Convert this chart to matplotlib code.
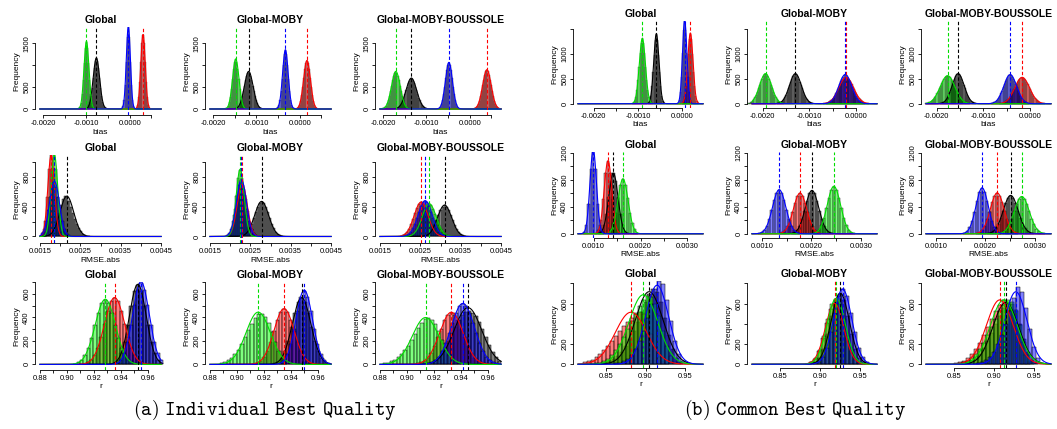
import numpy as np
import matplotlib
matplotlib.use("Agg")
import matplotlib.pyplot as plt

plt.rcParams['font.family'] = ['Liberation Sans', 'DejaVu Sans']
plt.rcParams['axes.unicode_minus'] = False
plt.rcParams['mathtext.fontset'] = 'cm'

# bin widths per metric
W_BIAS = 0.000025
W_RMSE = 0.00005
W_R_A = 0.0025
W_R_B = 0.005

# histograms: (left edge of first bin, counts)
# ---- (a) Individual Best Quality ----
a11_black = (-0.0010075, [12, 35, 81, 162, 290, 476, 708, 928, 1102, 1160, 1102, 928, 708, 476,
                          290, 162, 81, 35, 12])
a11_red = (0.0001475, [29, 100, 275, 608, 1073, 1509, 1690, 1509, 1073, 608, 275, 100, 29])
a11_green = (-0.0011875, [15, 51, 145, 339, 658, 1055, 1401, 1540, 1401, 1055, 658, 339, 145, 51, 15])
a11_blue = (-0.0001925, [13, 58, 203, 541, 1081, 1637, 1880, 1637, 1081, 541, 203, 58, 13])

a12_black = (-0.0014925, [12, 23, 43, 77, 127, 199, 292, 405, 529, 652, 756, 826, 852, 826, 756,
                          652, 529, 405, 292, 199, 127, 77, 43, 23, 12])
a12_red = (-0.0000925, [9, 21, 49, 100, 190, 325, 505, 711, 908, 1050, 1103, 1050, 908, 711, 505,
                        325, 190, 100, 49, 21, 9])
a12_green = (-0.0017175, [12, 34, 79, 158, 283, 465, 692, 907, 1077, 1134, 1077, 907, 692, 465, 283,
                          158, 79, 34, 12])
a12_blue = (-0.0005425, [12, 36, 94, 211, 412, 692, 1002, 1251, 1347, 1251, 1002, 692, 412, 211,
                         94, 36, 12])

a13_black = (-0.0017375, [8, 14, 24, 39, 62, 95, 139, 195, 262, 341, 425, 508, 585, 646, 686, 700,
                          686, 646, 585, 508, 425, 341, 262, 195, 139, 95, 62, 39, 24, 14, 8])
a13_red = (0.0000875, [10, 20, 39, 71, 120, 192, 289, 408, 540, 672, 785, 862, 890, 862, 785, 672,
                       540, 408, 289, 192, 120, 71, 39, 20, 10])
a13_green = (-0.0020225, [12, 23, 43, 77, 127, 199, 292, 405, 529, 652, 756, 826, 852, 826, 756,
                          652, 529, 405, 292, 199, 127, 77, 43, 23, 12])
a13_blue = (-0.0007425, [11, 25, 56, 111, 201, 335, 508, 699, 880, 1010, 1058, 1010, 880, 699, 508,
                         335, 201, 111, 56, 25, 11])

a21_black = (0.0017, [10, 25, 60, 120, 210, 320, 430, 510, 542, 530, 480, 400, 320, 240, 170,
                      110, 70, 40, 22, 12, 6])
a21_red = (0.001505, [11, 61, 209, 528, 913, 1100, 913, 528, 209, 61, 11])
a21_green = (0.001585, [11, 61, 209, 528, 913, 1100, 913, 528, 209, 61, 11])
a21_blue = (0.001535, [44, 103, 205, 359, 535, 674, 733, 674, 535, 359, 205, 103, 44, 15])

a22_black = (0.002255, [9, 19, 33, 61, 108, 169, 244, 324, 400, 451, 470, 451, 400, 324, 244,
                        169, 108, 61, 33, 19, 9])
a22_red = (0.001925, [14, 42, 98, 196, 343, 511, 644, 700, 644, 511, 343, 196, 98, 42, 14])
a22_green = (0.001925, [9, 36, 127, 288, 549, 792, 900, 792, 549, 288, 127, 36, 9])
a22_blue = (0.001905, [15, 46, 106, 213, 372, 555, 699, 760, 699, 555, 372, 213, 106, 46, 15])

a23_black = (0.002575, [8, 16, 29, 55, 96, 151, 218, 289, 357, 403, 420, 403, 357, 289, 218,
                        151, 96, 55, 29, 16, 8])
a23_red = (0.001995, [9, 18, 32, 60, 106, 166, 239, 317, 391, 441, 460, 441, 391, 317, 239,
                      166, 106, 60, 32, 18, 9])
a23_green = (0.002195, [9, 17, 31, 57, 101, 158, 228, 303, 374, 422, 440, 422, 374, 303, 228,
                        158, 101, 57, 31, 17, 9])
a23_blue = (0.002095, [10, 19, 34, 62, 110, 173, 249, 331, 408, 461, 480, 461, 408, 331, 249,
                       173, 110, 62, 34, 19, 10])

a31_black = (0.93385, [14, 41, 95, 189, 331, 493, 621, 675, 621, 493, 331, 189, 95, 41, 14])
a31_red = (0.91165, [6, 17, 39, 79, 141, 231, 344, 451, 536, 564, 536, 451, 344, 231, 141, 79,
                     39, 17, 6])
a31_green = (0.90475, [6, 17, 38, 77, 138, 226, 336, 440, 523, 550, 523, 440, 336, 226, 138, 77,
                       38, 17, 6])
a31_blue = (0.93625, [14, 41, 97, 193, 338, 504, 635, 690, 635, 504, 338, 193, 97, 41])

a32_black = (0.92675, [11, 22, 56, 112, 202, 314, 437, 526, 560, 526, 437, 314, 202, 112, 56, 22, 11])
a32_red = (0.91125, [5, 14, 33, 66, 118, 193, 287, 376, 447, 470, 447, 376, 287, 193, 118, 66,
                     33, 14, 5])
a32_green = (0.8875, [10, 20, 35, 55, 85, 125, 175, 230, 290, 345, 395, 425, 430, 405, 350, 275,
                      190, 110, 50, 15])
a32_blue = (0.93125, [12, 37, 87, 174, 304, 453, 571, 620, 571, 453, 304, 174, 87, 37])

a33_black = (0.915, [10, 20, 35, 60, 95, 140, 195, 255, 320, 375, 420, 445, 453, 440, 410, 360,
                     300, 230, 165, 105, 60, 30])
a33_red = (0.90675, [9, 18, 31, 57, 101, 158, 229, 304, 374, 422, 440, 422, 374, 304, 229, 158,
                     101, 57, 31, 18, 9])
a33_green = (0.8825, [8, 15, 25, 40, 60, 85, 120, 160, 210, 260, 310, 355, 385, 392, 380, 340,
                      280, 210, 140, 80, 40, 15, 5])
a33_blue = (0.91525, [10, 21, 36, 67, 118, 185, 267, 355, 437, 493, 514, 493, 437, 355, 267, 185,
                      118, 67, 36, 21, 10])

# ---- (b) Common Best Quality ----
b11_black = (-0.0007685, [20, 62, 160, 349, 641, 990, 1284, 1400, 1284, 990, 641, 349, 160, 62, 20])
b11_red = (0.0000015, [20, 62, 161, 352, 648, 1000, 1297, 1414, 1297, 1000, 648, 352, 161, 62, 20])
b11_green = (-0.0011355, [8, 22, 58, 133, 267, 473, 740, 1018, 1233, 1314, 1233, 1018, 740, 473,
                          267, 133, 58, 22, 8])
b11_blue = (-0.0001025, [18, 74, 227, 546, 1020, 1482, 1680, 1482, 1020, 546, 227, 74, 18])

b12_black = (-0.0016875, [10, 16, 26, 42, 64, 94, 134, 184, 242, 308, 378, 446, 508, 557, 589, 600,
                          589, 557, 508, 446, 378, 308, 242, 184, 134, 94, 64, 42, 26, 16, 10])
b12_red = (-0.0006975, [6, 10, 15, 23, 34, 48, 67, 91, 120, 155, 196, 241, 289, 339, 388, 433, 472,
                        502, 521, 527, 521, 502, 472, 433, 388, 339, 289, 241, 196, 155, 120, 91,
                        67, 48, 34, 23, 15, 10, 6])
b12_green = (-0.0023275, [10, 16, 26, 42, 64, 94, 134, 184, 242, 308, 378, 446, 508, 557, 589, 600,
                          589, 557, 508, 446, 378, 308, 242, 184, 134, 94, 64, 42, 26, 16, 10])
b12_blue = (-0.0006425, [10, 16, 26, 39, 58, 84, 118, 160, 209, 266, 327, 389, 450, 502, 544, 571,
                         600, 571, 544, 502, 450, 389, 327, 266, 209, 160, 118, 84, 58, 39, 26, 16, 10])

b13_black = (-0.0019275, [10, 16, 26, 42, 64, 94, 134, 184, 242, 308, 378, 446, 508, 557, 589, 600,
                          589, 557, 508, 446, 378, 308, 242, 184, 134, 94, 64, 42, 26, 16, 10])
b13_red = (-0.0006575, [6, 10, 15, 23, 34, 48, 67, 91, 120, 155, 196, 241, 289, 339, 388, 433, 472,
                        502, 521, 527, 521, 502, 472, 433, 388, 339, 289, 241, 196, 155, 120, 91,
                        67, 48, 34, 23, 15, 10, 6])
b13_green = (-0.0022535, [7, 11, 16, 25, 36, 51, 71, 96, 128, 165, 208, 256, 307, 361, 413, 460, 502,
                          533, 553, 560, 553, 533, 502, 460, 413, 361, 307, 256, 208, 165, 128, 96,
                          71, 51, 36, 25, 16, 11, 7])
b13_blue = (-0.0008385, [10, 16, 26, 39, 58, 84, 118, 160, 209, 266, 327, 389, 450, 502, 544, 571,
                         580, 571, 544, 502, 450, 389, 327, 266, 209, 160, 118, 84, 58, 39, 26, 16, 10])

b21_black = (0.001095, [9, 36, 125, 286, 546, 788, 895, 788, 546, 286, 125, 36, 9])
b21_red = (0.001031, [11, 60, 205, 519, 896, 1082, 896, 519, 205, 60, 11])
b21_green = (0.001301, [16, 65, 153, 315, 533, 726, 807, 726, 533, 315, 153, 65, 16])
b21_blue = (0.000765, [21, 123, 445, 960, 1240, 960, 445, 123, 21])

b22_black = (0.001585, [8, 22, 54, 114, 213, 344, 486, 598, 640, 598, 486, 344, 213, 114, 54, 22, 8])
b22_red = (0.001345, [7, 21, 51, 108, 200, 323, 456, 560, 600, 560, 456, 323, 200, 108, 51, 21, 7])
b22_green = (0.002025, [8, 24, 60, 126, 234, 378, 532, 654, 700, 654, 532, 378, 234, 126, 60, 24, 8])
b22_blue = (0.000925, [8, 22, 55, 117, 217, 350, 494, 607, 650, 607, 494, 350, 217, 117, 55, 22, 8])

b23_black = (0.002032, [6, 17, 40, 79, 142, 232, 345, 453, 538, 566, 538, 453, 345, 232, 142, 79,
                        40, 17, 6])
b23_red = (0.001811, [12, 24, 60, 120, 216, 336, 468, 564, 600, 564, 468, 336, 216, 120, 60, 24, 12])
b23_green = (0.002255, [6, 17, 39, 77, 138, 226, 336, 441, 523, 551, 523, 441, 336, 226, 138, 77,
                        39, 17, 6])
b23_blue = (0.001557, [13, 40, 94, 189, 330, 492, 620, 674, 620, 492, 330, 189, 94, 40, 13])

b31_black = (0.8425, [10, 20, 35, 55, 85, 125, 180, 250, 330, 420, 520, 620, 700, 740, 720, 620,
                      460, 290, 150, 60, 20])
b31_red = (0.82, [20, 30, 45, 70, 100, 140, 185, 230, 280, 330, 380, 420, 460, 500, 520, 500, 420,
                  300, 170, 70, 20, 5])
b31_green = (0.835, [8, 15, 30, 55, 90, 140, 200, 270, 350, 430, 510, 580, 640, 673, 665, 600, 480,
                     330, 180, 80, 25, 8])
b31_blue = (0.86, [8, 15, 30, 55, 95, 150, 230, 330, 460, 600, 740, 825, 790, 640, 430, 230, 100,
                   35, 10])

b32_black = (0.8875, [7, 23, 66, 154, 299, 480, 637, 700, 637, 480, 299, 154, 66, 23, 7])
b32_red = (0.8805, [6, 20, 56, 132, 256, 411, 546, 600, 546, 411, 256, 132, 56, 20, 6])
b32_green = (0.8825, [7, 21, 61, 143, 278, 445, 592, 650, 592, 445, 278, 143, 61, 21, 7])
b32_blue = (0.8905, [7, 24, 70, 163, 316, 507, 673, 740, 673, 507, 316, 163, 70, 24, 7])

b33_black = (0.86, [8, 18, 35, 65, 105, 160, 230, 310, 400, 480, 560, 600, 600, 530, 400, 250, 120,
                    45, 12])
b33_red = (0.85, [8, 18, 35, 60, 100, 150, 215, 290, 370, 450, 530, 590, 634, 620, 540, 390, 220,
                  90, 25])
b33_green = (0.855, [8, 18, 35, 60, 100, 150, 215, 290, 370, 450, 530, 590, 634, 620, 540, 390, 220,
                     90, 25])
b33_blue = (0.8775, [10, 20, 40, 75, 125, 200, 290, 400, 530, 660, 766, 720, 560, 350, 170, 60, 15])

titles = ["Global", "Global-MOBY", "Global-MOBY-BOUSSOLE"]

FILL = {"black": (0, 0, 0, 0.5), "red": (1, 0, 0, 0.5),
        "green": (0, 1, 0, 0.5), "blue": (0, 0, 1, 0.5)}
LINE = {"black": "black", "red": "red", "green": "#00dd00", "blue": "blue"}
ORDER = ["black", "red", "green", "blue"]

FW, FH = 1057, 429
fig = plt.figure(figsize=(FW / 100, FH / 100), dpi=100)


def panel(L, T, R, B, title, xlab, series, w, lo, hi, ylim,
          xticks, xticklabels, yticks, yticklabels, edge_lw):
    ax = fig.add_axes([L / FW, 1 - B / FH, (R - L) / FW, (B - T) / FH])
    pad = 0.04 * (hi - lo)
    ax.set_xlim(lo - pad, hi + pad)
    ax.set_ylim(*ylim)
    stats = {}
    for c in ORDER:
        start, counts = series[c]
        counts = np.asarray(counts, float)
        edges = start + w * np.arange(len(counts))
        ax.bar(edges, counts, width=w, align="edge", color=FILL[c],
               edgecolor="black", linewidth=edge_lw, zorder=2)
        mids = edges + w / 2
        n = counts.sum()
        m = (mids * counts).sum() / n
        sd = np.sqrt(((mids - m) ** 2 * counts).sum() / n)
        stats[c] = (n, m, sd)
    xs = np.linspace(lo, hi, 600)
    for c in ORDER:
        n, m, sd = stats[c]
        ys = n * w / (sd * np.sqrt(2 * np.pi)) * np.exp(-0.5 * ((xs - m) / sd) ** 2)
        ax.plot(xs, ys, color=LINE[c], lw=0.8, zorder=3)
    for c in ORDER:
        ax.axvline(stats[c][1], color=LINE[c], lw=0.8, dashes=(3, 2), zorder=4)

    for s in ("top", "right"):
        ax.spines[s].set_visible(False)
    ax.spines["left"].set_bounds(yticks[0], yticks[-1])
    ax.spines["bottom"].set_bounds(xticks[0], xticks[-1])
    for s in ("left", "bottom"):
        ax.spines[s].set_linewidth(0.6)
    ax.set_xticks(xticks)
    ax.set_xticklabels(xticklabels, fontsize=5.5)
    ax.set_yticks(yticks)
    ax.set_yticklabels(yticklabels, fontsize=5.5, rotation=90, va="center")
    ax.tick_params(length=2.4, width=0.6, pad=1)
    ax.set_title(title, fontsize=7.5, fontweight="bold", pad=3)
    ax.set_xlabel(xlab, fontsize=6)
    ax.set_ylabel("Frequency", fontsize=6)
    ax.xaxis.set_label_coords(0.5, -17 / (B - T))
    ax.xaxis.label.set_va("center")
    ax.yaxis.set_label_coords(-18 / (R - L), 0.5)
    ax.yaxis.label.set_va("center")
    return ax


def lab(vals, keep, fmt):
    return [fmt % v if i in keep else "" for i, v in enumerate(vals)]


# ---------------- panel (a) ----------------
bias_ticks_a = [-0.002, -0.0015, -0.001, -0.0005, 0.0, 0.0005]
bias_lab_a = lab(bias_ticks_a, (0, 2, 4), "%.4f")
rmse_ticks_a = [0.0015, 0.002, 0.0025, 0.003, 0.0035, 0.004, 0.0045]
rmse_lab_a = lab(rmse_ticks_a, (0, 2, 4, 6), "%.4f")
r_ticks_a = [0.88, 0.89, 0.90, 0.91, 0.92, 0.93, 0.94, 0.95, 0.96]
r_lab_a = lab(r_ticks_a, (0, 2, 4, 6, 8), "%.2f")

rows_a = [
    dict(xlab="bias", w=W_BIAS, lo=-0.00208, hi=0.00073, T=27, B=115, ylim=(-137, 1872),
         xt=bias_ticks_a, xl=bias_lab_a, yt=[0, 500, 1000, 1500], yl=["0", "500", "", "1500"],
         elw=0.2,
         data=[dict(black=a11_black, red=a11_red, green=a11_green, blue=a11_blue),
               dict(black=a12_black, red=a12_red, green=a12_green, blue=a12_blue),
               dict(black=a13_black, red=a13_red, green=a13_green, blue=a13_blue)]),
    dict(xlab="RMSE.abs", w=W_RMSE, lo=0.0015, hi=0.0045, T=155, B=243, ylim=(-88, 1100),
         xt=rmse_ticks_a, xl=rmse_lab_a, yt=[0, 200, 400, 600, 800, 1000],
         yl=["0", "", "400", "", "800", ""], elw=0.3,
         data=[dict(black=a21_black, red=a21_red, green=a21_green, blue=a21_blue),
               dict(black=a22_black, red=a22_red, green=a22_green, blue=a22_blue),
               dict(black=a23_black, red=a23_red, green=a23_green, blue=a23_blue)]),
    dict(xlab="r", w=W_R_A, lo=0.88, hi=0.9699, T=282, B=370, ylim=(-47.5, 690),
         xt=r_ticks_a, xl=r_lab_a, yt=[0, 100, 200, 300, 400, 500, 600, 700],
         yl=["0", "", "200", "", "400", "", "600", ""], elw=0.35,
         data=[dict(black=a31_black, red=a31_red, green=a31_green, blue=a31_blue),
               dict(black=a32_black, red=a32_red, green=a32_green, blue=a32_blue),
               dict(black=a33_black, red=a33_red, green=a33_green, blue=a33_blue)]),
]

for row in rows_a:
    for c in range(3):
        L = 35 + 170 * c
        panel(L, row["T"], L + 131, row["B"], titles[c], row["xlab"], row["data"][c],
              row["w"], row["lo"], row["hi"], row["ylim"], row["xt"], row["xl"],
              row["yt"], row["yl"], row["elw"])

# ---------------- panel (b) ----------------
bias_ticks_b = [-0.002, -0.0015, -0.001, -0.0005, 0.0]
bias_lab_b = lab(bias_ticks_b, (0, 2, 4), "%.4f")
rmse_ticks_b = [0.001, 0.0015, 0.002, 0.0025, 0.003]
rmse_lab_b = lab(rmse_ticks_b, (0, 2, 4), "%.4f")
r_ticks_b = [0.85, 0.90, 0.95]
r_lab_b = ["0.85", "0.90", "0.95"]

cols_b = [(573, 708), (747, 882), (921, 1056)]
bias_lohi_b = [(-0.002355, 0.000475), (-0.00223, 0.00045), (-0.002228, 0.000447)]
rmse_lohi_b = [(0.000665, 0.003335), (0.000803, 0.003318), (0.000803, 0.003318)]
r_lohi_b = [(0.8139, 0.9733), (0.8147, 0.971), (0.8147, 0.971)]

rows_b = [
    dict(xlab="bias", w=W_BIAS, lohi=bias_lohi_b, T=21, B=108, ylim=(-86, 1666),
         xt=bias_ticks_b, xl=bias_lab_b, yt=[0, 500, 1000, 1500], yl=["0", "500", "1000", ""],
         elw=0.2,
         data=[dict(black=b11_black, red=b11_red, green=b11_green, blue=b11_blue),
               dict(black=b12_black, red=b12_red, green=b12_green, blue=b12_blue),
               dict(black=b13_black, red=b13_red, green=b13_green, blue=b13_blue)]),
    dict(xlab="RMSE.abs", w=W_RMSE, lohi=rmse_lohi_b, T=152, B=238, ylim=(-63, 1214),
         xt=rmse_ticks_b, xl=rmse_lab_b, yt=[0, 200, 400, 600, 800, 1000, 1200],
         yl=["0", "", "400", "", "800", "", "1200"], elw=0.3,
         data=[dict(black=b21_black, red=b21_red, green=b21_green, blue=b21_blue),
               dict(black=b22_black, red=b22_red, green=b22_green, blue=b22_blue),
               dict(black=b23_black, red=b23_red, green=b23_green, blue=b23_blue)]),
    dict(xlab="r", w=W_R_B, lohi=r_lohi_b, T=281, B=368, ylim=(-37, 824),
         xt=r_ticks_b, xl=r_lab_b, yt=[0, 200, 400, 600, 800], yl=["0", "200", "", "600", ""],
         elw=0.35,
         data=[dict(black=b31_black, red=b31_red, green=b31_green, blue=b31_blue),
               dict(black=b32_black, red=b32_red, green=b32_green, blue=b32_blue),
               dict(black=b33_black, red=b33_red, green=b33_green, blue=b33_blue)]),
]

for row in rows_b:
    for c in range(3):
        L, R = cols_b[c]
        lo, hi = row["lohi"][c]
        panel(L, row["T"], R, row["B"], titles[c], row["xlab"], row["data"][c],
              row["w"], lo, hi, row["ylim"], row["xt"], row["xl"], row["yt"], row["yl"],
              row["elw"])

fig.text(265 / FW, 1 - 410 / FH, r"$\mathtt{(a)\ Individual\ Best\ Quality}$",
         ha="center", va="center", fontsize=14.3)
fig.text(795 / FW, 1 - 410 / FH, r"$\mathtt{(b)\ Common\ Best\ Quality}$",
         ha="center", va="center", fontsize=14.3)

fig.savefig("out.png", dpi=100)
